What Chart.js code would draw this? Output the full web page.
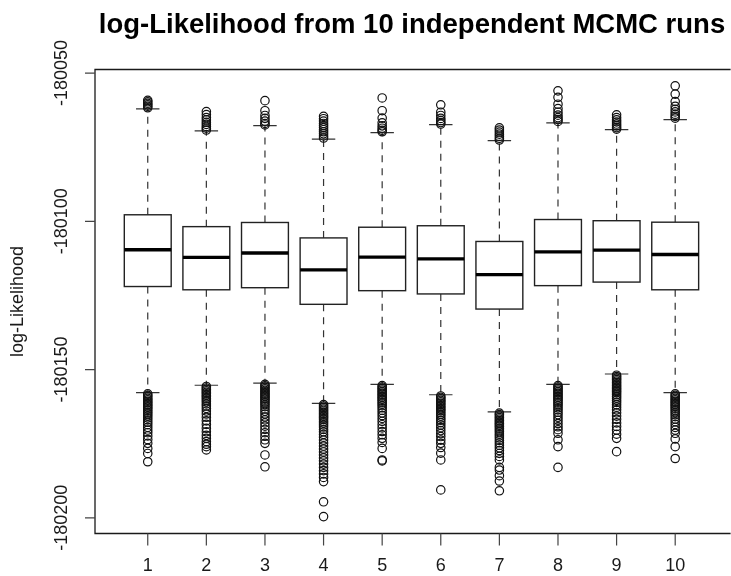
<!DOCTYPE html>
<html>
<head>
<meta charset="utf-8">
<script src="https://cdn.jsdelivr.net/npm/chart.js@4/dist/chart.umd.min.js"></script>
<style>
  html, body { margin: 0; padding: 0; background: #fff; overflow: hidden; }
  #wrap { width: 731px; height: 576px; }
</style>
</head>
<body>
<div id="wrap"><canvas id="boxes" width="731" height="576"></canvas></div>
<script>
var runs = ['1', '2', '3', '4', '5', '6', '7', '8', '9', '10'];

var upperWhisker = [-180062.1, -180069.5, -180067.7, -180072.3, -180070.1, -180067.4, -180072.8, -180066.8, -180069.1, -180065.7];
var q3 = [-180097.8, -180101.8, -180100.4, -180105.6, -180102.0, -180101.5, -180106.8, -180099.4, -180099.8, -180100.3];
var median = [-180109.6, -180112.2, -180110.7, -180116.4, -180112.1, -180112.7, -180118.0, -180110.3, -180109.7, -180111.2];
var q1 = [-180122.0, -180123.1, -180122.4, -180128.0, -180123.4, -180124.5, -180129.6, -180121.7, -180120.5, -180123.1];
var lowerWhisker = [-180157.8, -180155.3, -180154.6, -180161.4, -180155.0, -180158.5, -180164.3, -180155.0, -180151.5, -180157.8];

var upperOutliers = [
    [-180059.2, -180059.7, -180060.2, -180060.7, -180061.2, -180061.7],
    [-180063.0, -180064.0, -180065.0, -180065.8, -180066.6, -180067.3, -180068.0, -180068.6, -180069.2],
    [-180059.3, -180062.7, -180064.3, -180065.3, -180066.2, -180067.0, -180067.5],
    [-180064.6, -180065.4, -180066.2, -180067.0, -180067.7, -180068.4, -180069.1, -180069.8, -180070.5, -180071.2, -180071.9],
    [-180058.4, -180062.7, -180065.2, -180066.8, -180067.8, -180068.6, -180069.3, -180069.8],
    [-180060.7, -180063.2, -180064.3, -180065.3, -180066.0, -180066.7, -180067.2],
    [-180068.5, -180069.2, -180069.9, -180070.6, -180071.3, -180072.0, -180072.6],
    [-180056.0, -180058.2, -180060.5, -180062.0, -180063.2, -180064.2, -180065.0, -180065.7, -180066.3],
    [-180064.1, -180065.0, -180065.8, -180066.5, -180067.2, -180067.8, -180068.4, -180068.9],
    [-180054.3, -180057.1, -180059.6, -180061.2, -180062.2, -180063.1, -180063.9, -180064.6, -180065.2]
];

var lowerOutliers = [
    [-180158.2, -180158.7, -180159.2, -180159.7, -180160.2, -180160.7, -180161.2, -180161.7, -180162.2, -180162.7,
     -180163.2, -180163.8, -180164.4, -180165.0, -180165.6, -180166.3, -180167.0, -180167.8, -180168.6, -180169.5,
     -180170.4, -180171.3, -180172.4, -180173.6, -180174.9, -180176.6, -180178.3, -180181.1],
    [-180155.7, -180156.2, -180156.7, -180157.2, -180157.7, -180158.2, -180158.7, -180159.2, -180159.7, -180160.3,
     -180160.9, -180161.6, -180162.3, -180163.1, -180164.0, -180165.0, -180166.1, -180167.3, -180168.5, -180169.8,
     -180171.0, -180172.2, -180173.2, -180174.3, -180175.2, -180176.0, -180177.1],
    [-180155.0, -180155.5, -180156.0, -180156.5, -180157.0, -180157.5, -180158.0, -180158.5, -180159.0, -180159.5,
     -180160.0, -180160.6, -180161.2, -180161.8, -180162.5, -180163.3, -180164.1, -180165.0, -180166.0, -180167.0,
     -180168.0, -180169.1, -180170.2, -180171.3, -180172.5, -180173.7, -180174.9, -180178.8, -180182.8],
    [-180161.8, -180162.3, -180162.8, -180163.3, -180163.8, -180164.3, -180164.8, -180165.3, -180165.8, -180166.3,
     -180166.8, -180167.4, -180168.0, -180168.7, -180169.4, -180170.2, -180171.0, -180171.9, -180172.8, -180173.8,
     -180174.8, -180175.8, -180176.8, -180177.8, -180178.8, -180179.8, -180180.8, -180181.9, -180183.0, -180184.1,
     -180185.2, -180186.4, -180187.8, -180194.6, -180199.6],
    [-180155.4, -180155.9, -180156.4, -180156.9, -180157.4, -180157.9, -180158.4, -180158.9, -180159.4, -180159.9,
     -180160.4, -180161.0, -180161.6, -180162.2, -180162.9, -180163.7, -180164.6, -180165.5, -180166.5, -180167.5,
     -180168.6, -180169.7, -180170.9, -180172.0, -180173.2, -180174.6, -180176.6, -180180.5, -180180.8],
    [-180158.9, -180159.4, -180159.9, -180160.4, -180160.9, -180161.4, -180161.9, -180162.4, -180162.9, -180163.4,
     -180163.9, -180164.5, -180165.1, -180165.7, -180166.4, -180167.1, -180167.9, -180168.7, -180169.6, -180170.6,
     -180171.6, -180172.6, -180173.8, -180174.9, -180176.3, -180178.2, -180180.5, -180190.6],
    [-180164.7, -180165.2, -180165.7, -180166.2, -180166.7, -180167.2, -180167.7, -180168.2, -180168.7, -180169.2,
     -180169.8, -180170.4, -180171.0, -180171.7, -180172.4, -180173.1, -180173.9, -180174.7, -180175.5, -180176.4,
     -180177.3, -180178.3, -180179.3, -180180.5, -180183.0, -180183.9, -180185.8, -180187.6, -180190.9],
    [-180155.4, -180155.9, -180156.4, -180156.9, -180157.4, -180157.9, -180158.4, -180158.9, -180159.4, -180159.9,
     -180160.4, -180161.0, -180161.6, -180162.2, -180162.9, -180163.6, -180164.4, -180165.2, -180166.1, -180167.1,
     -180168.2, -180169.3, -180170.3, -180171.5, -180173.7, -180176.0, -180183.0],
    [-180151.9, -180152.4, -180152.9, -180153.4, -180153.9, -180154.4, -180154.9, -180155.4, -180155.9, -180156.4,
     -180156.9, -180157.4, -180157.9, -180158.5, -180159.1, -180159.7, -180160.4, -180161.1, -180161.9, -180162.7,
     -180163.6, -180164.6, -180165.7, -180166.8, -180168.0, -180169.2, -180170.4, -180171.8, -180173.2, -180177.7],
    [-180158.2, -180158.7, -180159.2, -180159.7, -180160.2, -180160.7, -180161.2, -180161.7, -180162.2, -180162.7,
     -180163.3, -180163.9, -180164.5, -180165.2, -180165.9, -180166.7, -180167.6, -180168.5, -180169.5, -180170.4,
     -180171.5, -180173.4, -180176.0, -180180.0]
];

var yTicks = [-180200, -180150, -180100, -180050];

var titleText = 'log-Likelihood from 10 independent MCMC runs';
var yTitle = 'log-Likelihood';

// outlier points, one per value, placed on the run's x position
var outlierPoints = [];
runs.forEach(function(r, i) {
    upperOutliers[i].concat(lowerOutliers[i]).forEach(function(v) {
        outlierPoints.push({ x: i + 1, y: v });
    });
});

var ink = '#1a1a1a';
var fontFamily = '"Liberation Sans", Arial, Helvetica, sans-serif';

// R-style boxplot pieces drawn through the chart scales
var boxPlugin = {
    id: 'rbox',
    beforeDatasetsDraw: function(chart) {
        var ctx = chart.ctx;
        var x = chart.scales.x, y = chart.scales.y;
        var half = (x.getPixelForValue(1.4) - x.getPixelForValue(1));
        var capHalf = half / 2;
        ctx.save();
        runs.forEach(function(r, i) {
            var cx = x.getPixelForValue(i + 1);
            var yHi = y.getPixelForValue(upperWhisker[i]);
            var yQ3 = y.getPixelForValue(q3[i]);
            var yMed = y.getPixelForValue(median[i]);
            var yQ1 = y.getPixelForValue(q1[i]);
            var yLo = y.getPixelForValue(lowerWhisker[i]);

            // whiskers
            ctx.strokeStyle = '#333';
            ctx.lineWidth = 1.2;
            ctx.setLineDash([7, 6]);
            ctx.beginPath();
            ctx.moveTo(cx, yQ3); ctx.lineTo(cx, yHi);
            ctx.moveTo(cx, yQ1); ctx.lineTo(cx, yLo);
            ctx.stroke();
            ctx.setLineDash([]);

            // staples
            ctx.beginPath();
            ctx.moveTo(cx - capHalf, yHi); ctx.lineTo(cx + capHalf, yHi);
            ctx.moveTo(cx - capHalf, yLo); ctx.lineTo(cx + capHalf, yLo);
            ctx.stroke();

            // box
            ctx.fillStyle = '#fff';
            ctx.fillRect(cx - half, yQ3, half * 2, yQ1 - yQ3);
            ctx.lineWidth = 1.4;
            ctx.strokeStyle = '#222';
            ctx.strokeRect(cx - half, yQ3, half * 2, yQ1 - yQ3);

            // median
            ctx.strokeStyle = '#000';
            ctx.lineWidth = 3.3;
            ctx.beginPath();
            ctx.moveTo(cx - half, yMed); ctx.lineTo(cx + half, yMed);
            ctx.stroke();
        });
        ctx.restore();
    },
    afterDraw: function(chart) {
        var ctx = chart.ctx;
        var a = chart.chartArea;
        var x = chart.scales.x, y = chart.scales.y;
        ctx.save();

        // frame (right side falls outside the window)
        ctx.strokeStyle = ink;
        ctx.lineWidth = 1.3;
        ctx.beginPath();
        ctx.moveTo(a.right + 5, a.top); ctx.lineTo(a.left, a.top);
        ctx.lineTo(a.left, a.bottom); ctx.lineTo(a.right + 5, a.bottom);
        ctx.stroke();

        // ticks
        ctx.strokeStyle = '#444';
        ctx.lineWidth = 1.2;
        ctx.beginPath();
        yTicks.forEach(function(t) {
            var py = y.getPixelForValue(t);
            ctx.moveTo(a.left, py); ctx.lineTo(a.left - 10, py);
        });
        runs.forEach(function(r, i) {
            var px = x.getPixelForValue(i + 1);
            ctx.moveTo(px, a.bottom); ctx.lineTo(px, a.bottom + 12);
        });
        ctx.stroke();

        // tick labels
        ctx.fillStyle = ink;
        ctx.font = '18px ' + fontFamily;
        ctx.textAlign = 'center';
        ctx.textBaseline = 'middle';
        runs.forEach(function(r, i) {
            ctx.fillText(r, x.getPixelForValue(i + 1), a.bottom + 33);
        });
        yTicks.forEach(function(t) {
            ctx.save();
            ctx.translate(62, y.getPixelForValue(t));
            ctx.rotate(-Math.PI / 2);
            ctx.fillText(String(t), 0, 0);
            ctx.restore();
        });

        // axis title
        ctx.save();
        ctx.translate(18, (a.top + a.bottom) / 2);
        ctx.rotate(-Math.PI / 2);
        ctx.fillText(yTitle, 0, 0);
        ctx.restore();

        // main title
        ctx.font = 'bold 27.5px ' + fontFamily;
        ctx.textBaseline = 'alphabetic';
        ctx.fillStyle = '#000';
        ctx.fillText(titleText, 412, 33);

        ctx.restore();
    }
};

var ctx1 = document.getElementById('boxes').getContext('2d');
new Chart(ctx1, {
    type: 'scatter',
    data: {
        datasets: [{
            label: 'outliers',
            data: outlierPoints,
            pointStyle: 'circle',
            pointRadius: 4.2,
            pointHoverRadius: 4.2,
            pointBorderWidth: 1.2,
            borderColor: '#111',
            backgroundColor: 'rgba(0,0,0,0)'
        }]
    },
    options: {
        responsive: false,
        animation: false,
        devicePixelRatio: 1,
        layout: { padding: { left: 95, top: 69.5, right: 0, bottom: 42.5 } },
        scales: {
            x: { type: 'linear', min: 0.1, max: 10.86, display: false },
            y: { type: 'linear', min: -180205.3, max: -180048.8, display: false }
        },
        plugins: {
            legend: { display: false },
            title: { display: false },
            tooltip: { enabled: false }
        }
    },
    plugins: [boxPlugin]
});
</script>
</body>
</html>
